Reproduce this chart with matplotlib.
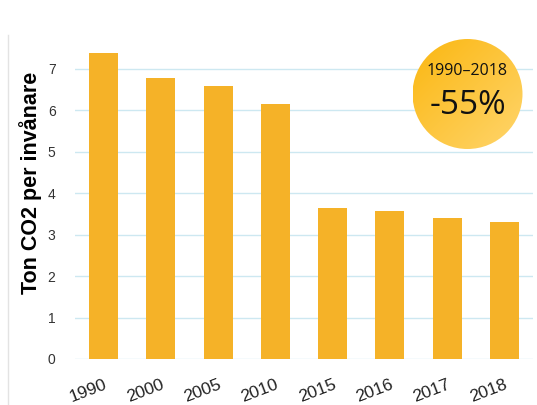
import numpy as np
import matplotlib
matplotlib.use("Agg")
import matplotlib.pyplot as plt
from matplotlib.patches import Circle
from matplotlib.lines import Line2D
from matplotlib.colors import LinearSegmentedColormap

years = ["1990", "2000", "2005", "2010", "2015", "2016", "2017", "2018"]
values = [7.39, 6.79, 6.59, 6.16, 3.65, 3.57, 3.41, 3.31]
badge_period = "1990–2018"
badge_change = "-55%"

plt.rcParams['font.family'] = ['Liberation Sans', 'DejaVu Sans']

W, H = 537, 405
fig = plt.figure(figsize=(W / 100, H / 100), dpi=100)
ax = fig.add_axes([75 / W, 46 / H, 458 / W, 315 / H])

x = np.arange(len(years))
ax.bar(x, values, width=0.51, color="#F5B228", zorder=2)
ax.set_xlim(-0.5, len(years) - 0.5)
ax.set_ylim(0, 7.6)
ax.set_yticks(range(0, 8))
ax.set_xticks(x)
ax.set_xticklabels(years, rotation=21, fontsize=12.5, color="#222222",
                   ha="right", va="top", rotation_mode="anchor")
ax.tick_params(axis="y", labelsize=10, colors="#333333", length=0, pad=14)
ax.tick_params(axis="x", length=0, pad=13)
ax.yaxis.grid(True, color="#CDE8F1", linewidth=1, zorder=0)
for s in ax.spines.values():
    s.set_visible(False)
ax.set_ylabel("Ton CO2 per invånare", fontsize=15.5, fontweight="bold")
ax.yaxis.set_label_coords(-0.072, 0.56)

# thin left border line
fig.add_artist(Line2D([8 / W, 8 / W], [0, 1 - 35 / H], color="#E3E3E3", linewidth=1))

# gradient badge
cx, cy, r = 467.5, 94, 55
bax = fig.add_axes([(cx - r) / W, (H - cy - r) / H, 2 * r / W, 2 * r / H])
bax.set_xlim(0, 1)
bax.set_ylim(0, 1)
bax.axis("off")
gx, gy = np.meshgrid(np.linspace(0, 1, 200), np.linspace(0, 1, 200))
grad = (gx + gy) / 2
cmap = LinearSegmentedColormap.from_list("badge", ["#FBB711", "#FFD56C"])
im = bax.imshow(grad, cmap=cmap, extent=[0, 1, 0, 1], origin="upper", aspect="auto")
circ = Circle((0.5, 0.5), 0.5, transform=bax.transAxes, facecolor="none", edgecolor="none")
bax.add_patch(circ)
im.set_clip_path(circ)
bax.text(0.5, 0.71, badge_period, ha="center", va="center", fontsize=11.5,
         color="#111111", family=["Open Sans", "DejaVu Sans"])
bax.text(0.5, 0.40, badge_change, ha="center", va="center", fontsize=24,
         color="#111111", family=["Open Sans", "DejaVu Sans"])

fig.savefig("out.png", dpi=100)
